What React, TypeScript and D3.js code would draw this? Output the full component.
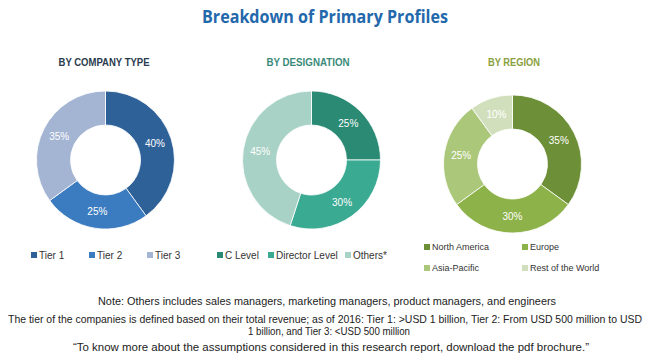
import React from "react";
import { pie, arc, PieArcDatum } from "d3";

// chart data
const companyLabels = ["Tier 1", "Tier 2", "Tier 3"];
const companyValues = [40, 25, 35];
const designationLabels = ["C Level", "Director Level", "Others*"];
const designationValues = [25, 30, 45];
const regionLabels = ["North America", "Europe", "Asia-Pacific", "Rest of the World"];
const regionValues = [35, 30, 25, 10];

const companyColors = ["#2f6199", "#3b7cc0", "#a4b5d4"];
const designationColors = ["#2b8a73", "#3aaa92", "#a8d2c6"];
const regionColors = ["#6d8f37", "#8db24a", "#abc77a", "#d2dfbd"];

const noteLines = [
  "Note:  Others includes sales managers, marketing managers, product managers, and engineers",
  "The tier of the companies is defined based on their total revenue; as of 2016: Tier 1: >USD 1 billion, Tier 2: From USD 500 million to USD",
  "1 billion, and Tier 3: <USD 500 million",
  "\u201CTo know more about the assumptions considered in this research report, download the pdf brochure.\u201D",
];

const OUTER = 69;
const INNER = 35;

const pieGen = pie<number>().sort(null).value((d) => d);
const arcGen = arc<PieArcDatum<number>>().innerRadius(INNER).outerRadius(OUTER);
const labelArc = arc<PieArcDatum<number>>().innerRadius(52).outerRadius(52);

const Donut = ({ cx, cy, values, colors }) => {
  const slices = pieGen(values);
  return (
    <g transform={`translate(${cx},${cy})`}>
      {slices.map((s, i) => (
        <path key={i} d={arcGen(s) || ""} fill={colors[i]} stroke="#fff" strokeWidth={0.8} />
      ))}
      {slices.map((s, i) => {
        const [x, y] = labelArc.centroid(s);
        return (
          <text key={"t" + i} x={x} y={y} dy="0.35em" textAnchor="middle"
            fontSize={10} fill="#fff" fontFamily="'Liberation Sans', Arial, sans-serif">
            {s.data}%
          </text>
        );
      })}
    </g>
  );
};

const Legend = ({ items, colors, positions, fontSize = 10, textColor = "#333" }) => (
  <g fontFamily="'Liberation Sans', Arial, sans-serif" fontSize={fontSize} fill={textColor}>
    {items.map((label, i) => (
      <g key={label} transform={`translate(${positions[i][0]},${positions[i][1]})`}>
        <rect x={0} y={-3} width={6} height={6} fill={colors[i]} />
        <text x={8} y={0} dy="0.35em">{label}</text>
      </g>
    ))}
  </g>
);

export default function App() {
  return (
    <svg width={650} height={361} style={{ position: "absolute", left: 0, top: 0, background: "#fff" }}>
      <rect width={650} height={361} fill="#fff" />
      <text x={325} y={23} textAnchor="middle" fontSize={17} fontWeight="bold" fill="#2468ac"
        fontFamily="'Open Sans', 'Noto Sans', sans-serif" textLength={246} lengthAdjust="spacingAndGlyphs">
        Breakdown of Primary Profiles
      </text>

      <g fontFamily="'Liberation Sans Narrow', 'Liberation Sans', Arial, sans-serif" fontSize={11} fontWeight={600}>
        <text x={104} y={66} textAnchor="middle" fill="#2b3b4e" textLength={91} lengthAdjust="spacingAndGlyphs">BY COMPANY TYPE</text>
        <text x={308} y={66} textAnchor="middle" fill="#3a8a7a" textLength={83} lengthAdjust="spacingAndGlyphs">BY DESIGNATION</text>
        <text x={514} y={66} textAnchor="middle" fill="#8aa040" textLength={52} lengthAdjust="spacingAndGlyphs">BY REGION</text>
      </g>

      <Donut cx={105.5} cy={160} values={companyValues} colors={companyColors} />
      <Donut cx={311.5} cy={160} values={designationValues} colors={designationColors} />
      <Donut cx={512.5} cy={164} values={regionValues} colors={regionColors} />

      <Legend items={companyLabels} colors={companyColors}
        positions={[[31, 255], [89, 255], [147, 255]]} />
      <Legend items={designationLabels} colors={designationColors}
        positions={[[217, 255], [268, 255], [345, 255]]} />
      <Legend items={regionLabels} colors={regionColors} fontSize={9}
        positions={[[424, 247], [522, 247], [424, 268], [522, 268]]} />

      <g fontFamily="'Liberation Sans Narrow', 'Liberation Sans', Arial, sans-serif" fontSize={11} fill="#222" textAnchor="middle">
        <text x={327} y={305} textLength={458} lengthAdjust="spacingAndGlyphs">{noteLines[0]}</text>
        <text x={325} y={323} textLength={634} lengthAdjust="spacingAndGlyphs">{noteLines[1]}</text>
        <text x={329} y={335} textLength={162} lengthAdjust="spacingAndGlyphs">{noteLines[2]}</text>
        <text x={331} y={351} textLength={516} lengthAdjust="spacingAndGlyphs">{noteLines[3]}</text>
      </g>
    </svg>
  );
}
